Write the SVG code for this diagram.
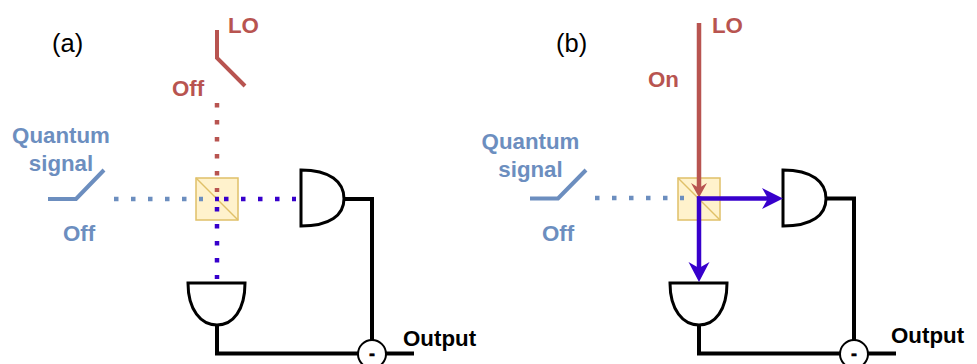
<svg xmlns="http://www.w3.org/2000/svg" width="977" height="364" viewBox="0 0 977 364">
<style>
text{font-family:"Liberation Sans",Arial,sans-serif;font-size:22.3px}
.b{font-weight:bold}
.p{font-size:25.500px}
.m{font-size:18px;font-weight:bold;stroke:#000;stroke-width:.5}
.r{fill:#b85450}.u{fill:#6c8ebf}.k{fill:#000}
.sw{fill:none;stroke-width:4}
.ln{fill:none;stroke-width:4.500}
.dot{fill:none;stroke-width:4.500;stroke-dasharray:4.500 12.500}
.bs{fill:#fff2cc;stroke:#e0c068;stroke-width:1.5}
.bsd{fill:none;stroke:#e0c068;stroke-width:1.5}
.gate{fill:#fff;stroke:#000;stroke-width:3}
.wire{fill:none;stroke:#000;stroke-width:4}
.circ{fill:#fff;stroke:#000;stroke-width:2}
</style>
<defs>
<g id="bs"><rect class="bs" x="196" y="178" width="42" height="42"/><path class="bsd" d="M196,178L238,220"/></g>
<g id="gr"><path class="gate" d="M301,170C330,170 344,182 344,198.700C344,215 330,226 301,226Z"/></g>
<g id="gb"><path class="gate" d="M188,283H245C245,310 233,325 217,325C201,325 188,310 188,283Z"/></g>
</defs>
<g id="a-beamsplitter"><use href="#bs"/></g>
<g id="a-gate-right"><use href="#gr"/></g>
<g id="a-gate-bottom"><use href="#gb"/></g>
<g id="b-beamsplitter"><use href="#bs" x="482"/></g>
<g id="b-gate-right"><use href="#gr" x="482"/></g>
<g id="b-gate-bottom"><use href="#gb" x="482"/></g>
<g id="connectors">
<path class="sw" stroke="#b85450" d="M217,30V58L245,86"/>
<path class="sw" stroke="#6c8ebf" d="M48,199H76L104,170"/>
<path class="dot" stroke="#b85450" d="M217,103V192"/>
<path class="dot" stroke="#6c8ebf" d="M114,199H203"/>
<path class="dot" stroke="#3700cc" d="M224,199H296"/>
<path class="dot" stroke="#3700cc" d="M215,199H219"/>
<path class="dot" stroke="#3700cc" d="M217,207V279"/>
<path class="wire" d="M344,199H372V342"/>
<path class="wire" d="M217,325V353.500H360"/>
<path class="wire" d="M384,353.500H414"/>

<path class="ln" stroke="#b85450" d="M699,23V188"/>
<path fill="#b85450" d="M699,197.500L691,183L699,188L707,183Z"/>
<path class="sw" stroke="#6c8ebf" d="M530,198.500H558L586,170"/>
<path class="dot" stroke="#6c8ebf" d="M595,198H684"/>
<path class="ln" stroke="#3700cc" d="M697,198.500H770"/>
<path fill="#3700cc" d="M783,198.500L762,188L768,198.500L762,209Z"/>
<path class="ln" stroke="#3700cc" d="M699,196.500V270"/>
<path fill="#3700cc" d="M699,282L688.500,262L699,268L709.500,262Z"/>
<path class="wire" d="M826,198.500H854V342"/>
<path class="wire" d="M699,325V353.500H842"/>
<path class="wire" d="M866,353.500H896"/>
</g>
<g id="a-subtract"><circle class="circ" cx="372" cy="354" r="14"/><text class="m k" x="372" y="360" text-anchor="middle">-</text></g>
<g id="b-subtract"><circle class="circ" cx="854" cy="354" r="14"/><text class="m k" x="854" y="360" text-anchor="middle">-</text></g>
<g id="labels">
<text class="p k" x="52" y="52">(a)</text>
<text class="b r" x="228" y="33">LO</text>
<text class="b r" x="172" y="96">Off</text>
<text class="b u" x="61" y="143" text-anchor="middle">Quantum</text>
<text class="b u" x="61" y="171" text-anchor="middle">signal</text>
<text class="b u" x="63" y="241">Off</text>
<text class="b k" x="403" y="346">Output</text>
<text class="p k" x="556" y="52">(b)</text>
<text class="b r" x="712" y="33">LO</text>
<text class="b r" x="648" y="87">On</text>
<text class="b u" x="530.500" y="149" text-anchor="middle">Quantum</text>
<text class="b u" x="530.500" y="177" text-anchor="middle">signal</text>
<text class="b u" x="542" y="241">Off</text>
<text class="b k" x="891" y="343">Output</text>
</g>
</svg>
